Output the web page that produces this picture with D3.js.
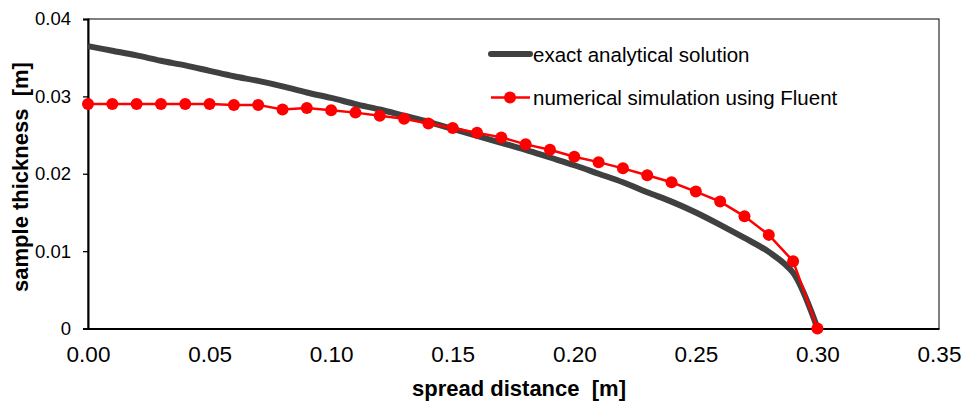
<!DOCTYPE html>
<html>
<head>
<meta charset="utf-8">
<script src="https://cdn.jsdelivr.net/npm/d3@7"></script>
<style>
  body { margin: 0; background: #fff; }
  svg { font-family: "Liberation Sans", Arial, sans-serif; }
</style>
</head>
<body>
<div class="chart"></div>
<script>
// spread distance (m), one sample every 0.01
const distance = [0.00, 0.01, 0.02, 0.03, 0.04, 0.05, 0.06, 0.07, 0.08, 0.09,
  0.10, 0.11, 0.12, 0.13, 0.14, 0.15, 0.16, 0.17, 0.18, 0.19,
  0.20, 0.21, 0.22, 0.23, 0.24, 0.25, 0.26, 0.27, 0.28, 0.29, 0.30];

// exact analytical solution (m)
const exactThickness = [0.0365, 0.0359, 0.0353, 0.0346, 0.0340, 0.0333, 0.0326, 0.0320, 0.0313, 0.0305,
  0.0298, 0.0290, 0.0283, 0.0275, 0.0267, 0.0258, 0.0249, 0.0240, 0.0231, 0.0221,
  0.0211, 0.0200, 0.0189, 0.0176, 0.0164, 0.0150, 0.0134, 0.0117, 0.0099, 0.0072, 0.0000];

// numerical simulation using Fluent (m)
const fluentThickness = [0.0290, 0.0290, 0.0290, 0.0290, 0.0290, 0.0290, 0.0289, 0.0289, 0.0283, 0.0285,
  0.0282, 0.0279, 0.0275, 0.0271, 0.0265, 0.0259, 0.0253, 0.0247, 0.0238, 0.0231,
  0.0222, 0.0215, 0.0207, 0.0198, 0.0189, 0.0177, 0.0164, 0.0145, 0.0121, 0.0087, 0.0000];

const xTicks = [0, 0.05, 0.10, 0.15, 0.20, 0.25, 0.30, 0.35];
const yTicks = [0, 0.01, 0.02, 0.03, 0.04];

const width = 963, height = 405;
const margin = { top: 19, right: 24, bottom: 76.5, left: 88 };

const svg = d3.select(".chart").append("svg")
  .attr("width", width)
  .attr("height", height);

const x = d3.scaleLinear().domain([0, 0.35]).range([margin.left, width - margin.right]);
const y = d3.scaleLinear().domain([0, 0.04]).range([height - margin.bottom, margin.top]);

// plot area border
svg.append("rect")
  .attr("x", x(0)).attr("y", y(0.04))
  .attr("width", x(0.35) - x(0)).attr("height", y(0) - y(0.04))
  .attr("fill", "none").attr("stroke", "#000").attr("stroke-width", 1);

// y axis
const yAxis = svg.append("g")
  .attr("transform", `translate(${x(0)},0)`)
  .call(d3.axisLeft(y).tickValues(yTicks).tickSize(5).tickPadding(12)
    .tickFormat(d => d === 0 ? "0" : d3.format(".2f")(d)));
yAxis.select(".domain").attr("stroke", "#000").attr("stroke-width", 2);
yAxis.selectAll(".tick line").attr("stroke", "#000").attr("stroke-width", 1.3);
yAxis.selectAll(".tick text")
  .attr("fill", "#000")
  .style("font-size", "18.5px")
  .style("font-family", "'Liberation Sans', Arial, sans-serif");

// x axis
const xAxis = svg.append("g")
  .attr("transform", `translate(0,${y(0)})`)
  .call(d3.axisBottom(x).tickValues(xTicks).tickSize(0).tickPadding(18)
    .tickFormat(d3.format(".2f")));
xAxis.select(".domain").attr("stroke", "#000").attr("stroke-width", 2);
xAxis.selectAll(".tick text")
  .attr("fill", "#000")
  .style("font-size", "22.5px")
  .style("font-family", "'Liberation Sans', Arial, sans-serif");

// axis titles
svg.append("text")
  .attr("x", 519).attr("y", 396)
  .attr("text-anchor", "middle")
  .style("font-size", "22px").style("font-weight", "bold")
  .style("white-space", "pre")
  .text("spread distance  [m]");

svg.append("text")
  .attr("transform", "translate(28,177) rotate(-90)")
  .attr("text-anchor", "middle")
  .style("font-size", "22px").style("font-weight", "bold")
  .style("white-space", "pre")
  .text("sample thickness  [m]");

// series
const exactData = distance.map((d, i) => ({ x: d, y: exactThickness[i] }));
const fluentData = distance.map((d, i) => ({ x: d, y: fluentThickness[i] }));

svg.append("path")
  .datum(exactData)
  .attr("fill", "none")
  .attr("stroke", "#404040")
  .attr("stroke-width", 6)
  .attr("stroke-linejoin", "round")
  .attr("d", d3.line().x(d => x(d.x)).y(d => y(d.y)).curve(d3.curveCatmullRom.alpha(0.5)));

svg.append("path")
  .datum(fluentData)
  .attr("fill", "none")
  .attr("stroke", "#ff0000")
  .attr("stroke-width", 2.5)
  .attr("d", d3.line().x(d => x(d.x)).y(d => y(d.y)));

svg.selectAll("circle.pt")
  .data(fluentData)
  .enter()
  .append("circle")
  .attr("class", "pt")
  .attr("cx", d => x(d.x))
  .attr("cy", d => y(d.y))
  .attr("r", 6)
  .attr("fill", "#ff0000");

// legend
const legend = svg.append("g");
legend.append("line")
  .attr("x1", 491).attr("x2", 530).attr("y1", 54).attr("y2", 54)
  .attr("stroke", "#404040").attr("stroke-width", 6).attr("stroke-linecap", "round");
legend.append("text")
  .attr("x", 533).attr("y", 61.5)
  .style("font-size", "20.5px")
  .text("exact analytical solution");

legend.append("line")
  .attr("x1", 491).attr("x2", 530).attr("y1", 97.5).attr("y2", 97.5)
  .attr("stroke", "#ff0000").attr("stroke-width", 2.5);
legend.append("circle")
  .attr("cx", 510).attr("cy", 97.5).attr("r", 6).attr("fill", "#ff0000");
legend.append("text")
  .attr("x", 533).attr("y", 105)
  .style("font-size", "20.5px")
  .text("numerical simulation using Fluent");
</script>
</body>
</html>
